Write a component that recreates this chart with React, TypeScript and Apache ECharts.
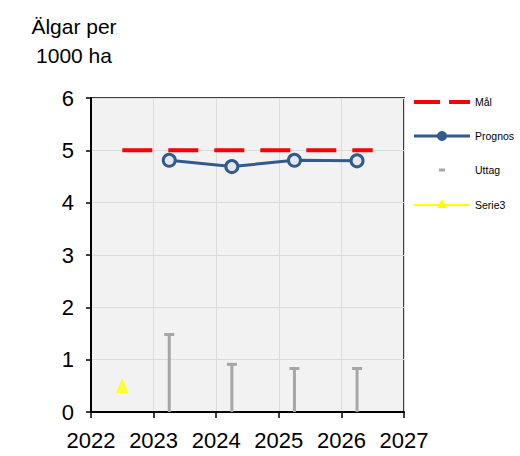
import React, { useEffect, useRef } from "react";
import * as echarts from "echarts";

const years = [2023.25, 2024.25, 2025.25, 2026.25];
const prognos = [4.81, 4.69, 4.81, 4.8];
const uttag = [1.5, 0.93, 0.85, 0.85];
const malX = [2022.5, 2026.5];
const malValue = 5;
const serie3 = [[2022.5, 0.5]];
const xTicks = [2022, 2023, 2024, 2025, 2026, 2027];
const yTicks = [0, 1, 2, 3, 4, 5, 6];
const legendNames = ["Mål", "Prognos", "Uttag", "Serie3"];

const FONT = "'Liberation Sans', Arial, sans-serif";

export default function App() {
  const ref = useRef<HTMLDivElement>(null);
  useEffect(() => {
    if (!ref.current) return;
    const chart = echarts.init(ref.current, undefined, { renderer: "svg" });
    const legendY = [102, 136, 170, 205];
    const lx0 = 414;
    const lx1 = 470;
    const lcx = (lx0 + lx1) / 2;
    const legendGraphics: any[] = [];
    legendGraphics.push({
      type: "line",
      shape: { x1: lx0, y1: legendY[0], x2: lx1, y2: legendY[0] },
      style: { stroke: "#ff0000", lineWidth: 4, lineDash: [26, 9] },
    });
    legendGraphics.push({
      type: "line",
      shape: { x1: lx0, y1: legendY[1], x2: lx1, y2: legendY[1] },
      style: { stroke: "#335a8c", lineWidth: 3 },
    });
    legendGraphics.push({
      type: "circle",
      shape: { cx: lcx, cy: legendY[1], r: 5 },
      style: { fill: "#335a8c" },
    });
    legendGraphics.push({
      type: "rect",
      shape: { x: lcx - 3, y: legendY[2] - 1.5, width: 6, height: 3 },
      style: { fill: "#a6a6a6" },
    });
    legendGraphics.push({
      type: "line",
      shape: { x1: lx0, y1: legendY[3], x2: lx1, y2: legendY[3] },
      style: { stroke: "#ffff00", lineWidth: 2 },
    });
    legendGraphics.push({
      type: "polygon",
      shape: { points: [[lcx, legendY[3] - 6], [lcx + 5, legendY[3] + 3], [lcx - 5, legendY[3] + 3]] },
      style: { fill: "#ffff00" },
    });
    legendNames.forEach((n, i) => {
      legendGraphics.push({
        type: "text",
        x: 475,
        y: legendY[i],
        style: { text: n, fontSize: 10.5, fontFamily: FONT, fill: "#000", verticalAlign: "middle", align: "left" },
      });
    });

    chart.setOption({
      animation: false,
      backgroundColor: "#ffffff",
      grid: {
        left: 91,
        right: 116,
        top: 98,
        bottom: 44,
        show: true,
        backgroundColor: "#f2f2f2",
        borderColor: "#000",
        borderWidth: 1.5,
      },
      xAxis: {
        type: "value",
        min: xTicks[0],
        max: xTicks[xTicks.length - 1],
        interval: 1,
        axisLine: { show: true, lineStyle: { color: "#000", width: 2 } },
        axisTick: { show: true, length: 6, lineStyle: { color: "#000", width: 1.5 } },
        axisLabel: { fontSize: 22, fontFamily: FONT, color: "#000", margin: 17, formatter: (v: number) => String(v) },
        splitLine: { show: true, lineStyle: { color: "#dcdcdc", width: 1 } },
      },
      yAxis: {
        type: "value",
        min: yTicks[0],
        max: yTicks[yTicks.length - 1],
        interval: 1,
        axisLine: { show: true, lineStyle: { color: "#000", width: 2 } },
        axisTick: { show: true, length: 5, lineStyle: { color: "#000", width: 1.5 } },
        axisLabel: { fontSize: 22, fontFamily: FONT, color: "#000", margin: 17 },
        splitLine: { show: true, lineStyle: { color: "#dcdcdc", width: 1 } },
      },
      graphic: [
        {
          type: "text",
          x: 74,
          y: 12,
          style: {
            text: "Älgar per\n1000 ha",
            fontSize: 21,
            lineHeight: 29,
            fontFamily: FONT,
            fill: "#000",
            align: "center",
          },
        },
        ...legendGraphics,
      ],
      series: [
        {
          name: "Uttag",
          type: "custom",
          data: years.map((x, i) => [x, uttag[i]]),
          renderItem: (params: any, api: any) => {
            const x = api.value(0);
            const v = api.value(1);
            const top = api.coord([x, v]);
            const bot = api.coord([x, 0]);
            return {
              type: "group",
              children: [
                {
                  type: "line",
                  shape: { x1: top[0], y1: top[1], x2: bot[0], y2: bot[1] },
                  style: { stroke: "#a6a6a6", lineWidth: 3 },
                },
                {
                  type: "line",
                  shape: { x1: top[0] - 5, y1: top[1] + 1, x2: top[0] + 5, y2: top[1] + 1 },
                  style: { stroke: "#a6a6a6", lineWidth: 3 },
                },
              ],
            };
          },
          z: 2,
        },
        {
          name: "Mål",
          type: "line",
          data: malX.map((x) => [x, malValue]),
          symbol: "none",
          lineStyle: { color: "#ff0000", width: 4, type: [30, 16] },
          z: 3,
        },
        {
          name: "Prognos",
          type: "line",
          data: years.map((x, i) => [x, prognos[i]]),
          symbol: "circle",
          symbolSize: 12,
          lineStyle: { color: "#335a8c", width: 3 },
          itemStyle: { color: "#e4e8ee", borderColor: "#335a8c", borderWidth: 3 },
          z: 4,
        },
        {
          name: "Serie3",
          type: "scatter",
          data: serie3,
          symbol: "triangle",
          symbolSize: [13, 15],
          itemStyle: { color: "#ffff00" },
          z: 4,
        },
      ],
    });
    return () => chart.dispose();
  }, []);
  return <div ref={ref} style={{ width: 520, height: 456, position: "absolute", left: 0, top: 0 }} />;
}
